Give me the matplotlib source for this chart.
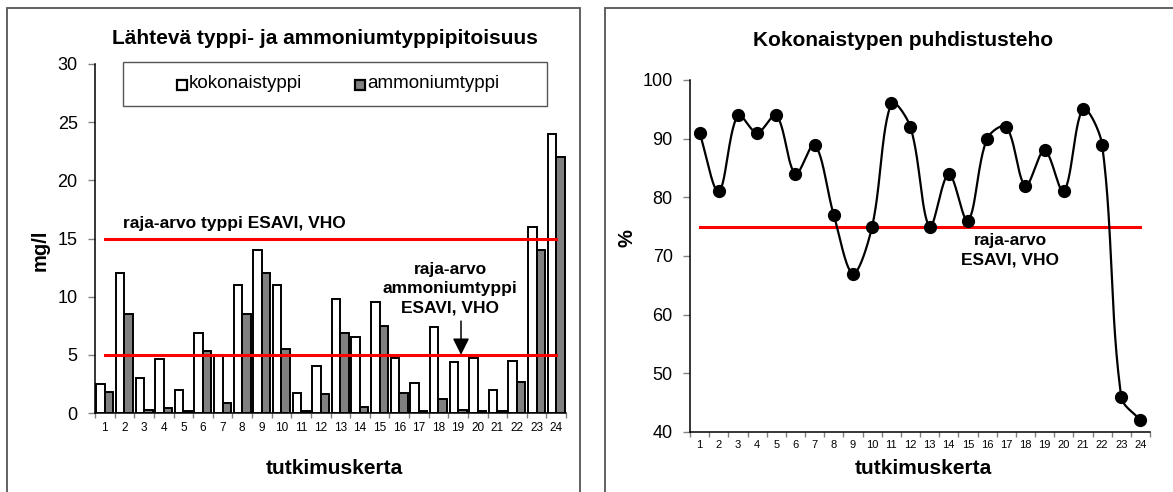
import numpy as np
import matplotlib
matplotlib.use('Agg')
import matplotlib.pyplot as plt
from matplotlib.patches import Rectangle
from matplotlib.ticker import FixedLocator

plt.rcParams['font.family'] = ['Liberation Sans', 'DejaVu Sans']

# ---------------- data ----------------
kerta = list(range(1, 25))
kokonaistyppi = [2.5, 12.0, 3.0, 4.6, 2.0, 6.9, 4.9, 11.0, 14.0, 11.0, 1.7, 4.0,
                 9.8, 6.5, 9.5, 4.7, 2.6, 7.4, 4.4, 4.7, 2.0, 4.5, 16.0, 24.0]
ammoniumtyppi = [1.8, 8.5, 0.3, 0.4, 0.15, 5.3, 0.9, 8.5, 12.0, 5.5, 0.2, 1.6,
                 6.9, 0.5, 7.5, 1.7, 0.15, 1.2, 0.3, 0.2, 0.15, 2.7, 14.0, 22.0]
puhdistusteho = [91, 81, 94, 91, 94, 84, 89, 77, 67, 75, 96, 92,
                 75, 84, 76, 90, 92, 82, 88, 81, 95, 89, 46, 42]
raja_typpi = 15
raja_ammonium = 5
raja_teho = 75

W, H = 1173, 492
fig = plt.figure(figsize=(W / 100, H / 100), dpi=100)


def fx(px):
    return px / W


def fy(py):
    return 1 - py / H


def excel_smooth(ax, x, y, n=30):
    """Bezier smoothing computed in display space (like a spreadsheet's smoothed line)."""
    pts = np.column_stack([np.asarray(x, float), np.asarray(y, float)])
    P = ax.transData.transform(pts)
    Pe = np.vstack([P[0], P, P[-1]])
    t = np.linspace(0, 1, n)[:, None]
    out = []
    for i in range(len(P) - 1):
        p0, p1, p2, p3 = Pe[i], Pe[i + 1], Pe[i + 2], Pe[i + 3]
        d01 = np.linalg.norm(p1 - p0)
        d12 = np.linalg.norm(p2 - p1)
        d23 = np.linalg.norm(p3 - p2)
        s1 = d12 / (d01 + d12) if (d01 + d12) > 0 else 0.5
        s2 = d12 / (d12 + d23) if (d12 + d23) > 0 else 0.5
        c1 = p1 + (p2 - p0) * s1 / 3
        c2 = p2 - (p3 - p1) * s2 / 3
        seg = (1 - t) ** 3 * p1 + 3 * (1 - t) ** 2 * t * c1 + 3 * (1 - t) * t ** 2 * c2 + t ** 3 * p2
        out.append(seg if i == 0 else seg[1:])
    return ax.transData.inverted().transform(np.vstack(out))


# panel frames
fig.patches.append(Rectangle((fx(7), fy(520)), fx(580) - fx(7), fy(8) - fy(520),
                             transform=fig.transFigure, fill=False, edgecolor='#555555', lw=1.3))
fig.patches.append(Rectangle((fx(605), fy(520)), fx(1200) - fx(605), fy(8) - fy(520),
                             transform=fig.transFigure, fill=False, edgecolor='#555555', lw=1.3))


def style_axes(ax, ylabsize, xlabsize, xpad):
    for s in ['top', 'right']:
        ax.spines[s].set_visible(False)
    for s in ['left', 'bottom']:
        ax.spines[s].set_color('black')
        ax.spines[s].set_linewidth(1.1)
    ax.set_xlim(0.5, 24.5)
    ax.set_xticks(kerta)
    ax.set_xticklabels([str(k) for k in kerta])
    ax.xaxis.set_minor_locator(FixedLocator(np.arange(0.5, 25, 1)))
    ax.tick_params(axis='x', which='major', length=0, labelsize=xlabsize, pad=xpad)
    ax.tick_params(axis='x', which='minor', length=3.5, width=1, color='#808080', direction='out')
    ax.tick_params(axis='y', which='major', length=5, width=1, color='#808080',
                   labelsize=ylabsize, pad=7.5)


# ---------------- left chart ----------------
axL = fig.add_axes([fx(95), fy(413), fx(566) - fx(95), fy(64) - fy(413)])
x = np.array(kerta, float)
axL.bar(x - 0.215, kokonaistyppi, width=0.43, color='white', edgecolor='black', lw=1.4, zorder=2)
axL.bar(x + 0.215, ammoniumtyppi, width=0.43, color='#808080', edgecolor='black', lw=1.4, zorder=2)
axL.plot(kerta, [raja_typpi] * len(kerta), color='#ff0000', lw=2.2, zorder=3)
axL.plot(kerta, [raja_ammonium] * len(kerta), color='#ff0000', lw=2.2, zorder=3)
axL.set_ylim(0, 30)
axL.set_yticks([0, 5, 10, 15, 20, 25, 30])
style_axes(axL, 13, 8.5, 6.5)

axL.text(1.93, 16.3, 'raja-arvo typpi ESAVI, VHO', fontsize=12.5, fontweight='bold',
         ha='left', va='center', zorder=4)
axL.text(18.6, 10.7, 'raja-arvo\nammoniumtyppi\nESAVI, VHO', fontsize=12.5, fontweight='bold',
         ha='center', va='center', linespacing=1.35, zorder=4)
axL.annotate('', xy=(19.15, 5.0), xytext=(19.15, 7.9),
             arrowprops=dict(arrowstyle='-|>,head_length=0.5,head_width=0.25',
                             mutation_scale=20, color='black', lw=1.1, shrinkA=0, shrinkB=0),
             zorder=5)

fig.text(fx(325), fy(38), 'Lähtevä typpi- ja ammoniumtyppipitoisuus', fontsize=15,
         fontweight='bold', ha='center', va='center')
fig.text(fx(40), fy(250), 'mg/l', fontsize=14.5, fontweight='bold', rotation=90,
         ha='center', va='center')
fig.text(fx(334), fy(469), 'tutkimuskerta', fontsize=15, fontweight='bold',
         ha='center', va='center')

# legend (manual)
fig.patches.append(Rectangle((fx(123), fy(106)), fx(547) - fx(123), fy(62) - fy(106),
                             transform=fig.transFigure, fill=True, facecolor='white',
                             edgecolor='#555555', lw=1.0, zorder=5))
fig.patches.append(Rectangle((fx(177), fy(89.5)), 10 / W, 10 / H, transform=fig.transFigure,
                             facecolor='white', edgecolor='black', lw=1.6, zorder=6))
fig.text(fx(189), fy(84), 'kokonaistyppi', fontsize=13.5, ha='left', va='center', zorder=6)
fig.patches.append(Rectangle((fx(355), fy(89.5)), 10 / W, 10 / H, transform=fig.transFigure,
                             facecolor='#808080', edgecolor='black', lw=1.6, zorder=6))
fig.text(fx(367), fy(84), 'ammoniumtyppi', fontsize=13.5, ha='left', va='center', zorder=6)

# ---------------- right chart ----------------
axR = fig.add_axes([fx(690), fy(432), fx(1150) - fx(690), fy(80) - fy(432)])
axR.set_ylim(40, 100)
axR.set_yticks([40, 50, 60, 70, 80, 90, 100])
style_axes(axR, 13, 8, 6)
curve = excel_smooth(axR, kerta, puhdistusteho)
axR.plot(curve[:, 0], curve[:, 1], color='black', lw=1.6, zorder=3)
axR.plot(kerta, puhdistusteho, linestyle='none', marker='o', markersize=8.5,
         color='black', zorder=4)
axR.plot(kerta, [raja_teho] * len(kerta), color='#ff0000', lw=2.2, zorder=2)

axR.text(17.2, 71.0, 'raja-arvo\nESAVI, VHO', fontsize=12.5, fontweight='bold',
         ha='center', va='center', linespacing=1.4, zorder=5)

fig.text(fx(903), fy(41), 'Kokonaistypen puhdistusteho', fontsize=15, fontweight='bold',
         ha='center', va='center')
fig.text(fx(627), fy(238), '%', fontsize=14.5, fontweight='bold', rotation=90,
         ha='center', va='center')
fig.text(fx(923), fy(468), 'tutkimuskerta', fontsize=15, fontweight='bold',
         ha='center', va='center')

fig.savefig('out.png', dpi=100, facecolor='white')
